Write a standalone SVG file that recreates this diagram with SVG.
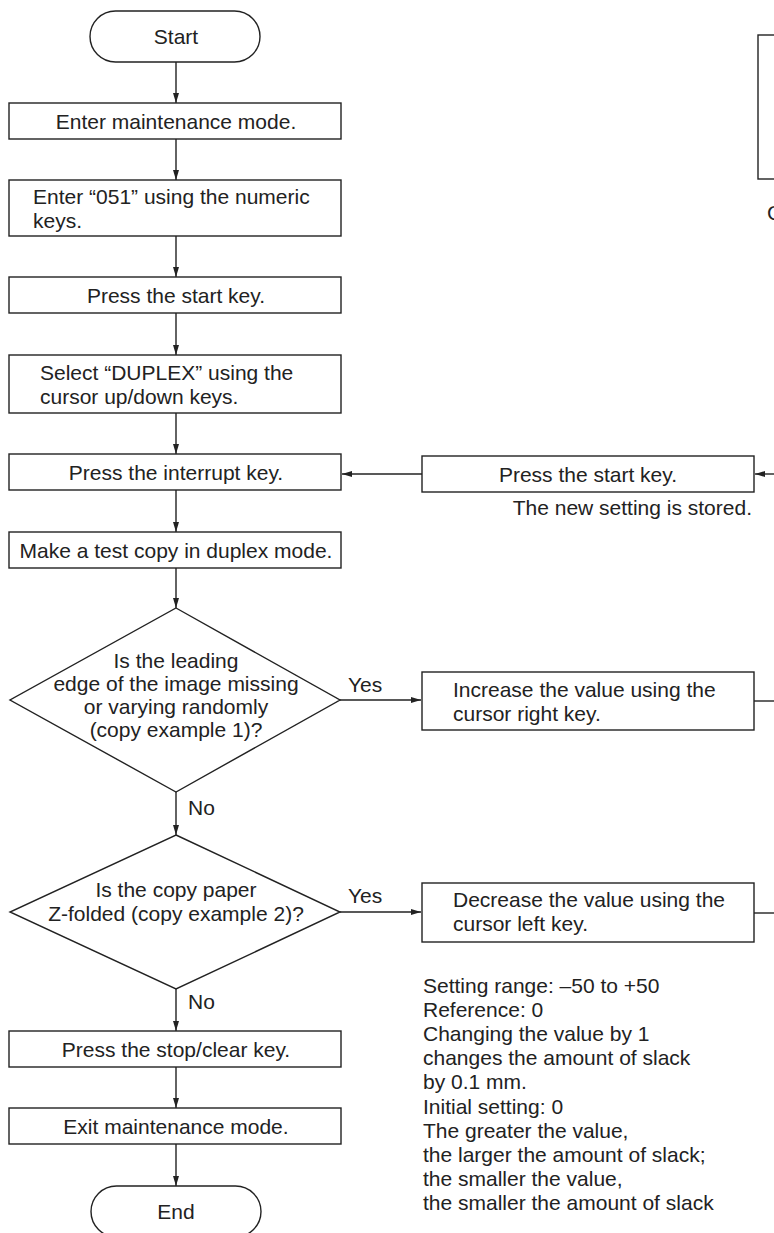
<svg xmlns="http://www.w3.org/2000/svg" width="774" height="1233" viewBox="0 0 774 1233">
<style>
.s{fill:#fff;stroke:#222;stroke-width:1.4}
.l{fill:none;stroke:#222;stroke-width:1.4}
.t{font-family:"Liberation Sans",Arial,sans-serif;font-size:21px;fill:#222}
.c{text-anchor:middle}
</style>
<defs>
<marker id="a" viewBox="0 0 10 6" refX="10" refY="3" markerWidth="10" markerHeight="6" markerUnits="userSpaceOnUse" orient="auto">
<path d="M0,0L10,3L0,6z" fill="#222"/>
</marker>
</defs>
<rect width="774" height="1233" fill="#fff"/>
<g id="connectors">
<path class="l" d="M176,62V103" marker-end="url(#a)"/>
<path class="l" d="M176,139V180" marker-end="url(#a)"/>
<path class="l" d="M176,236V277" marker-end="url(#a)"/>
<path class="l" d="M176,313V355" marker-end="url(#a)"/>
<path class="l" d="M176,413V454" marker-end="url(#a)"/>
<path class="l" d="M176,490V532" marker-end="url(#a)"/>
<path class="l" d="M176,568V608" marker-end="url(#a)"/>
<path class="l" d="M176,792V835" marker-end="url(#a)"/>
<path class="l" d="M176,989V1031" marker-end="url(#a)"/>
<path class="l" d="M176,1067V1108" marker-end="url(#a)"/>
<path class="l" d="M176,1144V1186" marker-end="url(#a)"/>
<path class="l" d="M340,700H421" marker-end="url(#a)"/>
<path class="l" d="M340,912H421" marker-end="url(#a)"/>
<path class="l" d="M422,474H342" marker-end="url(#a)"/>
<path class="l" d="M774,474H755" marker-end="url(#a)"/>
<path class="l" d="M754,701H774"/>
<path class="l" d="M754,913H774"/>
<text class="t" x="348" y="692">Yes</text>
<text class="t" x="348" y="903">Yes</text>
<text class="t" x="188" y="815">No</text>
<text class="t" x="188" y="1009">No</text>
</g>
<g id="start"><rect class="s" x="90" y="11" width="170" height="51" rx="25.5"/><text class="t c" x="176" y="44">Start</text></g>
<g id="enter-mode"><rect class="s" x="9" y="103" width="332" height="36"/><text class="t c" x="176" y="128.5">Enter maintenance mode.</text></g>
<g id="enter-051"><rect class="s" x="9" y="180" width="332" height="56"/><text class="t" x="33" y="204">Enter “051” using the numeric</text><text class="t" x="33" y="228">keys.</text></g>
<g id="press-start"><rect class="s" x="9" y="277" width="332" height="36"/><text class="t c" x="176" y="302.5">Press the start key.</text></g>
<g id="select-duplex"><rect class="s" x="9" y="355" width="332" height="58"/><text class="t" x="40" y="380">Select “DUPLEX” using the</text><text class="t" x="40" y="404">cursor up/down keys.</text></g>
<g id="press-interrupt"><rect class="s" x="9" y="454" width="332" height="36"/><text class="t c" x="176" y="479.5">Press the interrupt key.</text></g>
<g id="test-copy"><rect class="s" x="9" y="532" width="332" height="36"/><text class="t c" x="176" y="557.5">Make a test copy in duplex mode.</text></g>
<g id="decision1"><path class="s" d="M176,608L340,700L176,792L10,700z"/>
<text class="t c" x="176" y="668">Is the leading</text>
<text class="t c" x="176" y="691">edge of the image missing</text>
<text class="t c" x="176" y="714">or varying randomly</text>
<text class="t c" x="176" y="737">(copy example 1)?</text></g>
<g id="decision2"><path class="s" d="M176,835L340,912L176,989L10,912z"/>
<text class="t c" x="176" y="897">Is the copy paper</text>
<text class="t c" x="176" y="921">Z-folded (copy example 2)?</text></g>
<g id="press-stop"><rect class="s" x="9" y="1031" width="332" height="36"/><text class="t c" x="176" y="1056.5">Press the stop/clear key.</text></g>
<g id="exit-mode"><rect class="s" x="9" y="1108" width="332" height="36"/><text class="t c" x="176" y="1133.5">Exit maintenance mode.</text></g>
<g id="end"><rect class="s" x="91" y="1186" width="170" height="51" rx="25.5"/><text class="t c" x="176" y="1219">End</text></g>
<g id="increase"><rect class="s" x="422" y="672" width="332" height="58"/><text class="t" x="453" y="697">Increase the value using the</text><text class="t" x="453" y="721">cursor right key.</text></g>
<g id="decrease"><rect class="s" x="422" y="883" width="332" height="59"/><text class="t" x="453" y="907">Decrease the value using the</text><text class="t" x="453" y="931">cursor left key.</text></g>
<g id="press-start-right"><rect class="s" x="422" y="456" width="332" height="36"/><text class="t c" x="588" y="481.5">Press the start key.</text>
<text class="t" x="752" y="515" text-anchor="end">The new setting is stored.</text></g>
<g id="copy-example"><rect class="s" x="758" y="35" width="60" height="144"/><text class="t" x="767" y="220">C</text></g>
<g id="notes">
<text class="t" x="423" y="993">Setting range: –50 to +50</text>
<text class="t" x="423" y="1017">Reference: 0</text>
<text class="t" x="423" y="1041">Changing the value by 1</text>
<text class="t" x="423" y="1065">changes the amount of slack</text>
<text class="t" x="423" y="1089">by 0.1 mm.</text>
<text class="t" x="423" y="1114">Initial setting: 0</text>
<text class="t" x="423" y="1138">The greater the value,</text>
<text class="t" x="423" y="1162">the larger the amount of slack;</text>
<text class="t" x="423" y="1186">the smaller the value,</text>
<text class="t" x="423" y="1210">the smaller the amount of slack</text>
</g>
</svg>
